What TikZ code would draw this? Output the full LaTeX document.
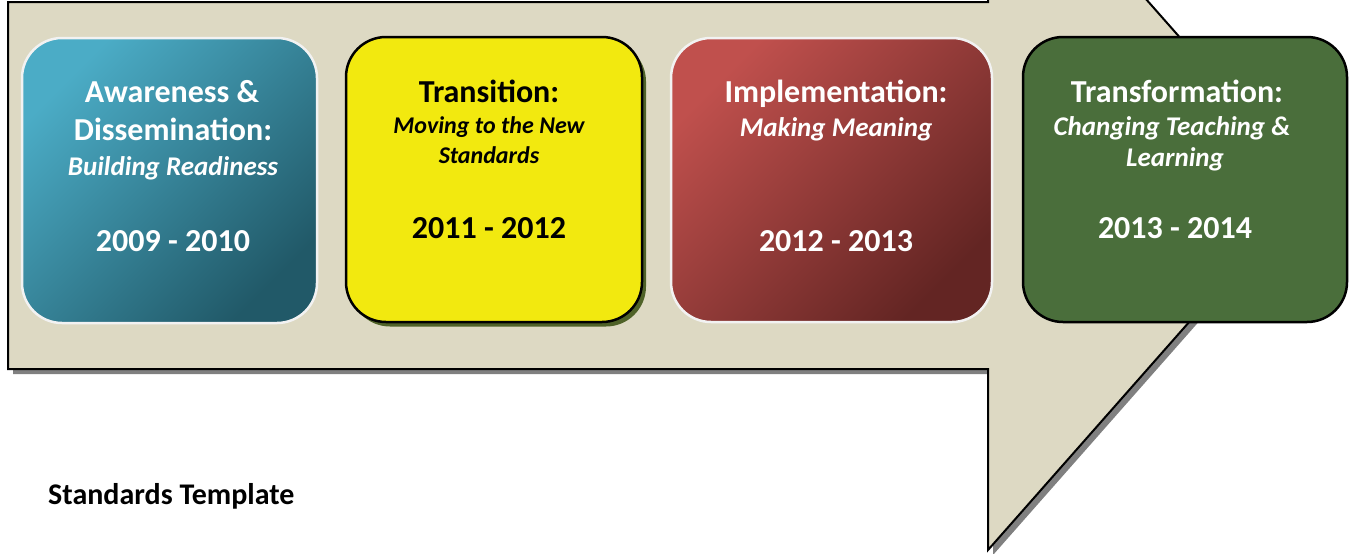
\documentclass[tikz,border=0pt]{standalone}
\usepackage{fontspec}
\setmainfont{Carlito}
\definecolor{arrowfill}{HTML}{DDD9C3}
\definecolor{shadowgrey}{HTML}{808080}
\definecolor{tealA}{HTML}{4BACC6}
\definecolor{tealB}{HTML}{215968}
\definecolor{redA}{HTML}{C0504D}
\definecolor{redB}{HTML}{632523}
\definecolor{yellowfill}{HTML}{F2E90F}
\definecolor{oliveshadow}{HTML}{4F6228}
\definecolor{greenfill}{HTML}{4A6E3B}
\definecolor{lightedge}{HTML}{F2F2F2}
\begin{document}
\begin{tikzpicture}[x=1pt,y=-1pt,
  stagebox/.style={rounded corners=40pt, inner sep=0pt, outer sep=0pt, line width=2.5pt},
  ttl/.style={font=\bfseries\fontsize{32}{32}\selectfont, anchor=base, inner sep=0pt},
  subttl/.style={font=\bfseries\itshape\fontsize{27}{27}\selectfont, anchor=base, inner sep=0pt},
  subttlsmall/.style={font=\bfseries\itshape\fontsize{24}{24}\selectfont, anchor=base, inner sep=0pt},
  yrs/.style={font=\bfseries\fontsize{32}{32}\selectfont, anchor=base, inner sep=0pt},
  whitetext/.style={text=white},
  blacktext/.style={text=black}
]
\useasboundingbox (0,0) rectangle (1349,554);
\clip (0,0) rectangle (1349,554);
% arrow shadow
\fill[shadowgrey] (13,7) -- (993,7) -- (993,-175) -- (1315,190) -- (993,555) -- (993,374) -- (13,374) -- cycle;
% arrow
\filldraw[fill=arrowfill, draw=black, line width=2pt, line join=miter]
  (8,2) -- (988,2) -- (988,-180) -- (1310,185) -- (988,550) -- (988,369) -- (8,369) -- cycle;

% stage 1
\node[stagebox, draw=lightedge, top color=tealA, bottom color=tealB, shading angle=45,
  minimum width=295pt, minimum height=285pt] (s1) at (169.5,180.5) {};
\node[ttl, whitetext] (s1a) at (172,102) {Awareness \&};
\node[ttl, whitetext] (s1b) at (173,140) {Dissemination:};
\node[subttl, whitetext] (s1c) at (173,175) {Building Readiness};
\node[yrs, whitetext] (s1d) at (173,251) {2009 - 2010};

% stage 2
\node[stagebox, fill=oliveshadow, minimum width=296pt, minimum height=285pt] (s2sh) at (498,184) {};
\node[stagebox, draw=black, fill=yellowfill, minimum width=296pt, minimum height=285pt] (s2) at (494,179.5) {};
\node[ttl, blacktext] (s2a) at (489,102) {Transition:};
\node[subttlsmall, blacktext] (s2b) at (489,133) {Moving to the New};
\node[subttlsmall, blacktext] (s2c) at (489,163) {Standards};
\node[yrs, blacktext] (s2d) at (489,238) {2011 - 2012};

% stage 3
\node[stagebox, draw=lightedge, top color=redA, bottom color=redB, shading angle=45,
  minimum width=321pt, minimum height=284pt] (s3) at (831.5,180) {};
\node[ttl, whitetext] (s3a) at (836,102) {Implementation:};
\node[subttl, whitetext] (s3b) at (836,136) {Making Meaning};
\node[yrs, whitetext] (s3d) at (836,251) {2012 - 2013};

% stage 4
\node[stagebox, draw=black, fill=greenfill, minimum width=324pt, minimum height=285pt] (s4) at (1185,179.5) {};
\node[ttl, whitetext] (s4a) at (1177,102) {Transformation:};
\node[subttl, whitetext] (s4b) at (1172,135) {Changing Teaching \&};
\node[subttl, whitetext] (s4c) at (1175,166) {Learning};
\node[yrs, whitetext] (s4d) at (1175,238) {2013 - 2014};

% caption
\node[font=\bfseries\fontsize{30}{30}\selectfont, anchor=base west, inner sep=0pt] (cap) at (48,504) {Standards Template};
\end{tikzpicture}
\end{document}
